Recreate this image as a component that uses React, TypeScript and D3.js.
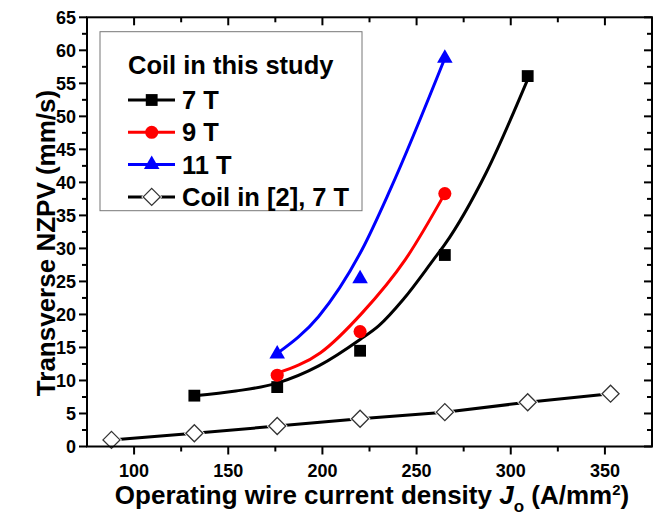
import React, { useRef, useEffect } from "react";
import * as d3 from "d3";

// measured points
const jo7T = [132, 176, 220, 265, 309];
const v7T = [7.7, 9.0, 14.5, 29.0, 56.1];
const jo9T = [176, 220, 265];
const v9T = [10.8, 17.4, 38.3];
const jo11T = [176, 220, 265];
const v11T = [14.0, 25.4, 58.8];
const joRef = [88, 132, 176, 220, 265, 309, 353];
const vRef = [1.0, 2.0, 3.1, 4.2, 5.2, 6.7, 8.0];

// fitted curves
const fitJo7T = [132, 154, 176, 198, 220, 230, 243, 259, 265, 287, 309];
const fit7T = [7.7, 8.4, 9.6, 12.2, 16.2, 18.3, 22.3, 28.3, 30.6, 41.5, 55.6];
const fitJo9T = [176, 199, 221, 244, 265];
const fit9T = [11.1, 14.2, 20.2, 28.3, 38.3];
const fitJo11T = [176, 198, 221, 236, 265];
const fit11T = [14.1, 19.7, 29.8, 38.9, 58.8];

const xTicks = [100, 150, 200, 250, 300, 350];
const xMinor = [125, 175, 225, 275, 325];
const yTicks = d3.range(0, 66, 5);
const yMinor = d3.range(2.5, 65, 5);

const legendHeading = "Coil in this study";
const legendLabels = ["7 T", "9 T", "11 T", "Coil in [2], 7 T"];

const FONT = "'Liberation Sans', Arial, sans-serif";

const App = () => {
  const svgRef = useRef<SVGSVGElement>(null);

  useEffect(() => {
    const root = d3.select(svgRef.current);
    root.selectAll("*").remove();

    const W = 659;
    const H = 524;
    const left = 87,
      right = 652,
      top = 17.3,
      bottom = 446.5;

    const x = d3.scaleLinear().domain([75, 375]).range([left, right]);
    const y = d3.scaleLinear().domain([0, 65]).range([bottom, top]);

    const svg = root.attr("width", W).attr("height", H);

    const zip = (xs, ys) => xs.map((v, i) => [v, ys[i]]);
    const line = d3
      .line()
      .x((d) => x(d[0]))
      .y((d) => y(d[1]))
      .curve(d3.curveMonotoneX);
    const straight = d3
      .line()
      .x((d) => x(d[0]))
      .y((d) => y(d[1]));

    // lines
    svg
      .append("path")
      .attr("d", straight(zip(joRef, vRef)))
      .attr("fill", "none")
      .attr("stroke", "#000")
      .attr("stroke-width", 3);
    svg
      .append("path")
      .attr("d", line(zip(fitJo7T, fit7T)))
      .attr("fill", "none")
      .attr("stroke", "#000")
      .attr("stroke-width", 3);
    svg
      .append("path")
      .attr("d", line(zip(fitJo9T, fit9T)))
      .attr("fill", "none")
      .attr("stroke", "#ff0000")
      .attr("stroke-width", 3);
    svg
      .append("path")
      .attr("d", line(zip(fitJo11T, fit11T)))
      .attr("fill", "none")
      .attr("stroke", "#0000ff")
      .attr("stroke-width", 3);

    // marker helpers
    const square = d3.symbol(d3.symbolSquare, 140)();
    const circle = d3.symbol(d3.symbolCircle, 135)();
    const triangle = d3.symbol(d3.symbolTriangle, 105)();
    const diamond = (r) => `M0,${-r}L${r},0L0,${r}L${-r},0Z`;

    const drawMarkers = (pts, shape, fill, stroke) => {
      svg
        .append("g")
        .selectAll("path")
        .data(pts)
        .enter()
        .append("path")
        .attr("transform", (d) => `translate(${x(d[0])},${y(d[1])})`)
        .attr("d", shape)
        .attr("fill", fill)
        .attr("stroke", stroke)
        .attr("stroke-width", 1.3);
    };

    drawMarkers(zip(joRef, vRef), diamond(10.5), "#fff", "none");
    drawMarkers(zip(joRef, vRef), diamond(8.5), "#fff", "#333");
    drawMarkers(zip(jo7T, v7T), square, "#000", "none");
    drawMarkers(zip(jo9T, v9T), circle, "#ff0000", "none");
    drawMarkers(zip(jo11T, v11T), triangle, "#0000ff", "none");

    // frame and axes
    const axisG = svg.append("g").attr("stroke", "#000").attr("stroke-width", 2);
    axisG
      .append("rect")
      .attr("x", left)
      .attr("y", top)
      .attr("width", right - left)
      .attr("height", bottom - top)
      .attr("fill", "none");

    const tick = (x1, y1, x2, y2) =>
      axisG.append("line").attr("x1", x1).attr("y1", y1).attr("x2", x2).attr("y2", y2);

    xTicks.forEach((t) => {
      tick(x(t), bottom, x(t), bottom + 8);
      tick(x(t), top, x(t), top + 8);
    });
    xMinor.forEach((t) => {
      tick(x(t), bottom, x(t), bottom + 5);
      tick(x(t), top, x(t), top + 5);
    });
    yTicks.forEach((t) => {
      tick(left, y(t), left - 8, y(t));
      tick(right, y(t), right - 8, y(t));
    });
    yMinor.forEach((t) => {
      tick(left, y(t), left - 5, y(t));
      tick(right, y(t), right - 5, y(t));
    });

    // tick labels
    svg
      .append("g")
      .selectAll("text")
      .data(xTicks)
      .enter()
      .append("text")
      .attr("x", (d) => x(d))
      .attr("y", 477)
      .attr("text-anchor", "middle")
      .style("font-family", FONT)
      .style("font-weight", "bold")
      .style("font-size", "18px")
      .text((d) => d);

    svg
      .append("g")
      .selectAll("text")
      .data(yTicks)
      .enter()
      .append("text")
      .attr("x", 76)
      .attr("y", (d) => y(d) + 6.5)
      .attr("text-anchor", "end")
      .style("font-family", FONT)
      .style("font-weight", "bold")
      .style("font-size", "18px")
      .text((d) => d);

    // axis titles
    const xt = svg
      .append("text")
      .attr("x", 372)
      .attr("y", 504)
      .attr("text-anchor", "middle")
      .style("font-family", FONT)
      .style("font-weight", "bold")
      .style("font-size", "26px");
    xt.append("tspan").text("Operating wire current density ");
    xt.append("tspan").style("font-style", "italic").text("J");
    xt.append("tspan").attr("dy", 8).style("font-size", "17px").text("o");
    xt.append("tspan").attr("dy", -8).text(" (A/mm");
    xt.append("tspan").attr("dy", -9).style("font-size", "15px").text("2");
    xt.append("tspan").attr("dy", 9).text(")");

    svg
      .append("text")
      .attr("transform", `translate(55,243) rotate(-90)`)
      .attr("text-anchor", "middle")
      .style("font-family", FONT)
      .style("font-weight", "bold")
      .style("font-size", "26px")
      .text("Transverse NZPV (mm/s)");

    // legend
    const lg = svg.append("g");
    lg.append("rect")
      .attr("x", 100)
      .attr("y", 31.7)
      .attr("width", 262)
      .attr("height", 179)
      .attr("fill", "#fff")
      .attr("stroke", "#777")
      .attr("stroke-width", 1);
    lg.append("text")
      .attr("x", 128)
      .attr("y", 74)
      .style("font-family", FONT)
      .style("font-weight", "bold")
      .style("font-size", "25.5px")
      .text(legendHeading);

    const legendColors = ["#000", "#ff0000", "#0000ff", "#000"];
    const legendShapes = [square, circle, triangle, diamond(8.5)];
    legendLabels.forEach((label, i) => {
      const cy = 100 + i * 32.3;
      const row = lg.append("g").attr("transform", `translate(0,${cy})`);
      row
        .append("line")
        .attr("x1", 128)
        .attr("x2", 175)
        .attr("stroke", legendColors[i])
        .attr("stroke-width", 3);
      if (i === 3) {
        row.append("path").attr("transform", "translate(151.7,0)").attr("d", diamond(10.5)).attr("fill", "#fff");
      }
      row
        .append("path")
        .attr("transform", "translate(151.7,0)")
        .attr("d", legendShapes[i])
        .attr("fill", i === 3 ? "#fff" : legendColors[i])
        .attr("stroke", i === 3 ? "#333" : "none")
        .attr("stroke-width", 1.3);
      row
        .append("text")
        .attr("x", 182)
        .attr("y", 9)
        .style("font-family", FONT)
        .style("font-weight", "bold")
        .style("font-size", "25.5px")
        .text(label);
    });
  }, []);

  return <svg ref={svgRef} style={{ position: "absolute", left: 0, top: 0 }}></svg>;
};

export default App;
